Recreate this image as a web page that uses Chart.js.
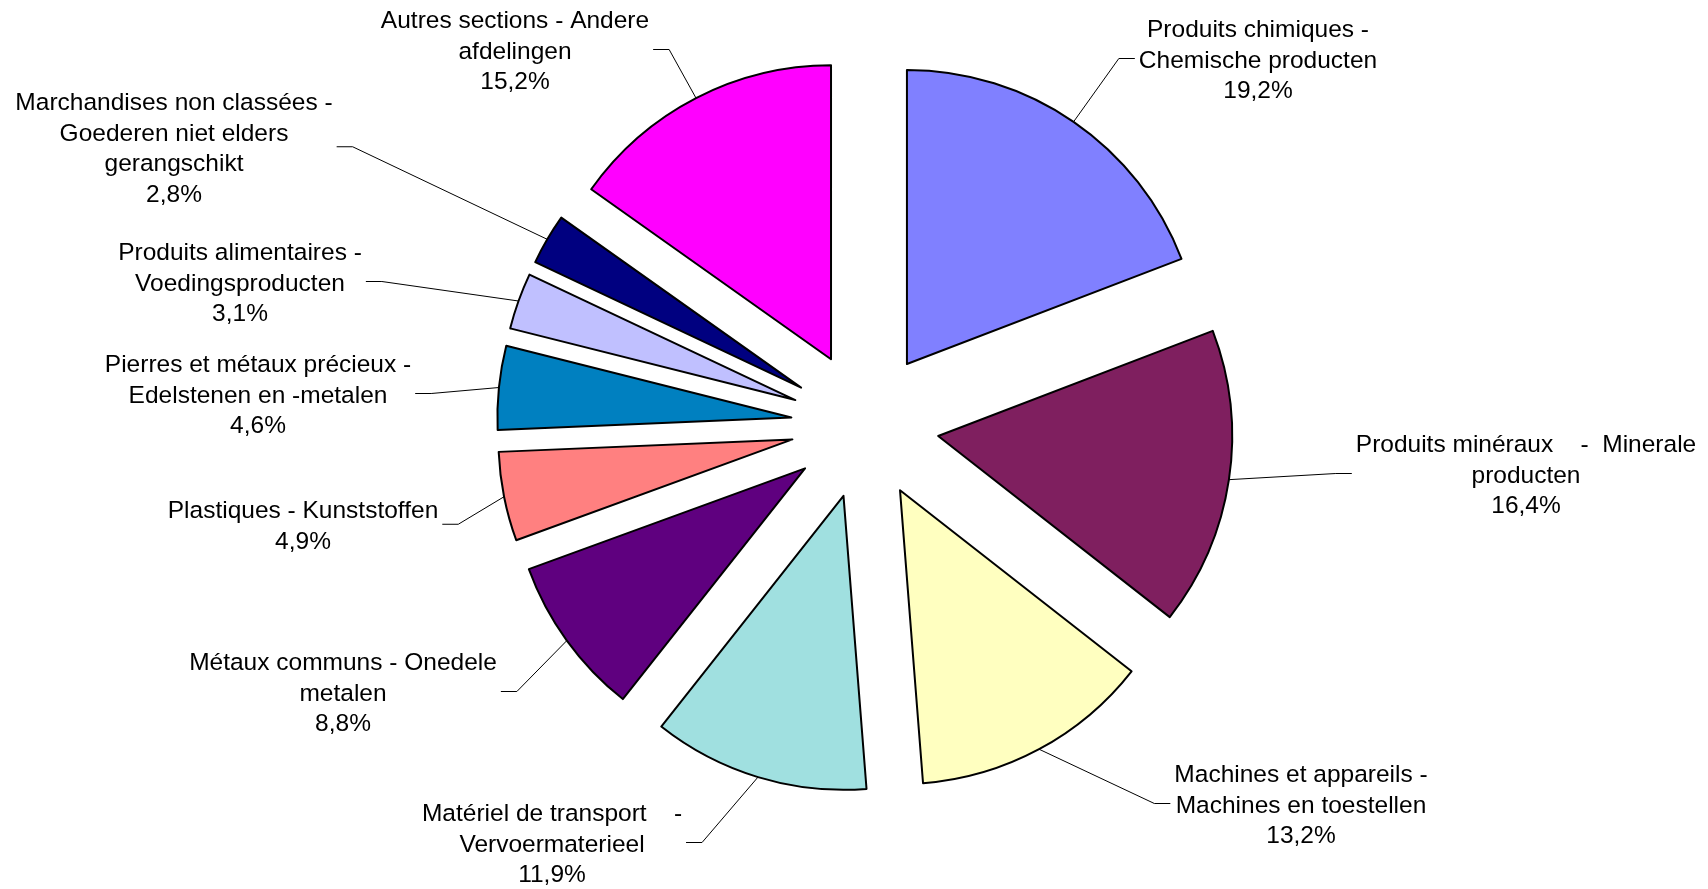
<!DOCTYPE html>
<html>
<head>
<meta charset="utf-8">
<title>Répartition par section</title>
<script src="https://cdn.jsdelivr.net/npm/chart.js@4/dist/chart.umd.min.js"></script>
<style>
    html, body { margin: 0; padding: 0; background: #ffffff; overflow: hidden; }
    canvas { display: block; }
</style>
</head>
<body>
<canvas id="pieChart" width="1708" height="889"></canvas>
<script>
// categories (line breaks as in the wrapped labels)
const categories = [
    "Produits chimiques -\nChemische producten",
    "Produits minéraux    -  Minerale\nproducten",
    "Machines et appareils -\nMachines en toestellen",
    "Matériel de transport    -\nVervoermaterieel",
    "Métaux communs - Onedele\nmetalen",
    "Plastiques - Kunststoffen",
    "Pierres et métaux précieux -\nEdelstenen en -metalen",
    "Produits alimentaires -\nVoedingsproducten",
    "Marchandises non classées -\nGoederen niet elders\ngerangschikt",
    "Autres sections - Andere\nafdelingen"
];
const shares = [19.2, 16.4, 13.2, 11.9, 8.8, 4.9, 4.6, 3.1, 2.8, 15.2];

const sliceColors = [
    "#8080FF", "#7F1F5F", "#FFFFC0", "#A0E0E0", "#5F007F",
    "#FF8080", "#0080C0", "#C0C0FF", "#000080", "#FF00FF"
];

// where each label sits: centre x, first baseline y, side the leader line comes in from
const labelPos = [
    { x: 1258, y: 37, side: -1 },
    { x: 1526, y: 452, side: -1 },
    { x: 1301, y: 782, side: -1 },
    { x: 552, y: 821, side: 1 },
    { x: 343, y: 670, side: 1 },
    { x: 303, y: 518, side: 1 },
    { x: 258, y: 372, side: 1 },
    { x: 240, y: 260, side: 1 },
    { x: 174, y: 110, side: 1 },
    { x: 515, y: 28, side: 1 }
];

const explodeBy = 74;
const labelFont = "24.5px 'Liberation Sans', Arial, sans-serif";
const lineHeight = 30.5;

// pull every slice out along its middle angle
const explodePlugin = {
    id: 'explode',
    afterDatasetsUpdate(chart) {
        chart.getDatasetMeta(0).data.forEach(arc => {
            const mid = (arc.startAngle + arc.endAngle) / 2;
            arc.x += Math.cos(mid) * explodeBy;
            arc.y += Math.sin(mid) * explodeBy;
        });
    }
};

// outside labels with leader lines
const labelPlugin = {
    id: 'outsideLabels',
    afterDatasetsDraw(chart) {
        const ctx = chart.ctx;
        const arcs = chart.getDatasetMeta(0).data;
        ctx.save();
        ctx.font = labelFont;
        ctx.textAlign = 'center';
        ctx.textBaseline = 'alphabetic';

        arcs.forEach((arc, i) => {
            const pos = labelPos[i];
            const value = chart.data.datasets[0].data[i];
            const lines = chart.data.labels[i].split('\n');
            lines.push(value.toFixed(1).replace('.', ',') + '%');

            const boxW = Math.max(...lines.map(l => ctx.measureText(l).width)) + 8;
            const attachY = pos.y + (lines.length - 1) * lineHeight / 2 - 9;
            const edgeX = pos.x + pos.side * boxW / 2;
            const elbowX = edgeX + pos.side * 16;

            const mid = (arc.startAngle + arc.endAngle) / 2;
            const sx = arc.x + Math.cos(mid) * arc.outerRadius;
            const sy = arc.y + Math.sin(mid) * arc.outerRadius;

            ctx.strokeStyle = '#000000';
            ctx.lineWidth = 1;
            ctx.beginPath();
            ctx.moveTo(sx, sy);
            ctx.lineTo(elbowX, attachY);
            ctx.lineTo(edgeX, attachY);
            ctx.stroke();

            ctx.fillStyle = '#000000';
            lines.forEach((l, k) => ctx.fillText(l, pos.x, pos.y + k * lineHeight));
        });
        ctx.restore();
    }
};

new Chart(document.getElementById('pieChart'), {
    type: 'pie',
    data: {
        labels: categories,
        datasets: [{
            data: shares,
            backgroundColor: sliceColors,
            borderColor: '#000000',
            borderWidth: 2,
            borderJoinStyle: 'round'
        }]
    },
    options: {
        responsive: false,
        animation: false,
        radius: 294,
        layout: { padding: { left: 22, top: 0, right: 0, bottom: 39 } },
        plugins: {
            legend: { display: false },
            tooltip: { enabled: false }
        }
    },
    plugins: [explodePlugin, labelPlugin]
});
</script>
</body>
</html>
